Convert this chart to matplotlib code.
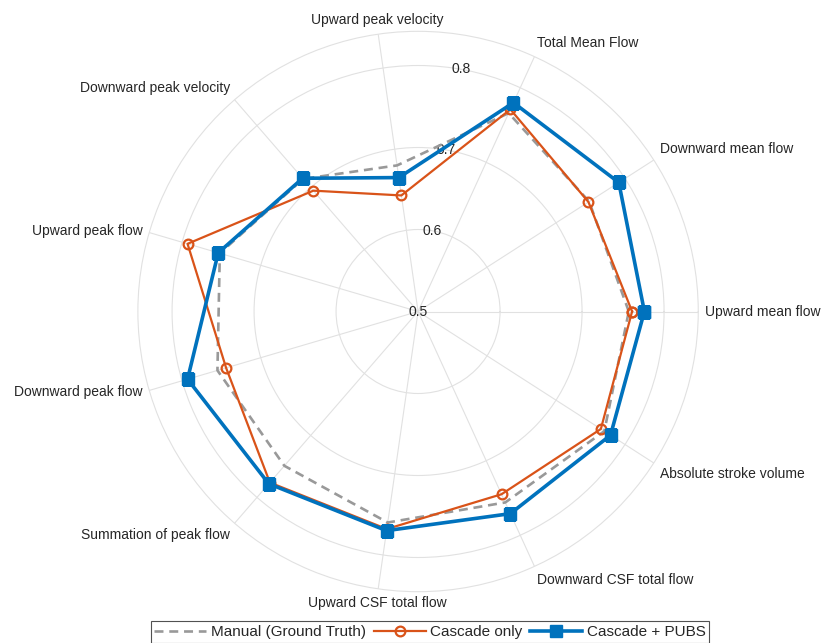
import matplotlib.pyplot as plt
import numpy as np

plt.rcParams['font.family'] = ['Liberation Sans', 'DejaVu Sans']

categories = ["Upward mean flow", "Downward mean flow", "Total Mean Flow",
              "Upward peak velocity", "Downward peak velocity", "Upward peak flow",
              "Downward peak flow", "Summation of peak flow", "Upward CSF total flow",
              "Downward CSF total flow", "Absolute stroke volume"]

manual = [0.757, 0.748, 0.766, 0.680, 0.714, 0.752, 0.755, 0.749, 0.760, 0.756, 0.770]
cascade = [0.761, 0.747, 0.771, 0.643, 0.695, 0.793, 0.744, 0.776, 0.768, 0.745, 0.765]
cascade_pubs = [0.776, 0.791, 0.780, 0.665, 0.715, 0.754, 0.793, 0.778, 0.770, 0.771, 0.779]

r_ticks = [0.5, 0.6, 0.7, 0.8]
r_min, r_max = 0.5, 0.8417

txt = '#262626'
grid_c = '#e1e1e1'

n = len(categories)
angles = np.arange(n) * 2 * np.pi / n
closed = np.append(angles, angles[0])


def close(vals):
    return np.append(vals, vals[0])


fig = plt.figure(figsize=(8.22, 6.43), dpi=100)
ax = fig.add_axes([0.1677, 0.0798, 0.6818, 0.8715], projection='polar')
ax.set_ylim(r_min, r_max)
ax.set_xticks(angles)
ax.set_xticklabels([])
ax.set_yticks(r_ticks[1:])
ax.set_yticklabels([])
ax.grid(True, color=grid_c, linewidth=0.8)
ax.spines['polar'].set_color(grid_c)
ax.spines['polar'].set_linewidth(0.8)
ax.tick_params(length=0)

l1, = ax.plot(closed, close(manual), color='#999999', lw=1.9,
              linestyle=(0, (3.4, 2.2)), label='Manual (Ground Truth)', zorder=3)
l2, = ax.plot(closed, close(cascade), color='#D95319', lw=1.6, marker='o',
              markersize=7, mfc='none', mew=1.6, label='Cascade only', zorder=4)
l3, = ax.plot(closed, close(cascade_pubs), color='#0072BD', lw=2.6, marker='s',
              markersize=9, mfc='#0072BD', mec='#0072BD', label='Cascade + PUBS', zorder=5)

# category labels around the outer ring
lab_r = 0.85
for a, name in zip(angles, categories):
    c, s = np.cos(a), np.sin(a)
    ha = 'center' if abs(c) < 0.2 else ('left' if c > 0 else 'right')
    va = 'bottom' if s > 0.4 else ('top' if s < -0.4 else 'center')
    ax.text(a, lab_r, name, ha=ha, va=va, fontsize=10, color=txt, clip_on=False)

# radial tick values
for r in r_ticks:
    ax.text(np.deg2rad(80), r, f"{r:.1f}", ha='center', va='center',
            fontsize=10, color=txt, zorder=2)

leg = fig.legend(handles=[l1, l2, l3], loc='center', bbox_to_anchor=(0.523, 0.0171),
                 ncol=3, frameon=True, fancybox=False, fontsize=11, handlelength=3.4,
                 handletextpad=0.3, columnspacing=0.5, borderpad=0.25,
                 borderaxespad=0, labelcolor=txt)
leg.get_frame().set_edgecolor('#262626')
leg.get_frame().set_linewidth(0.8)

fig.savefig('out.png', dpi=100)
